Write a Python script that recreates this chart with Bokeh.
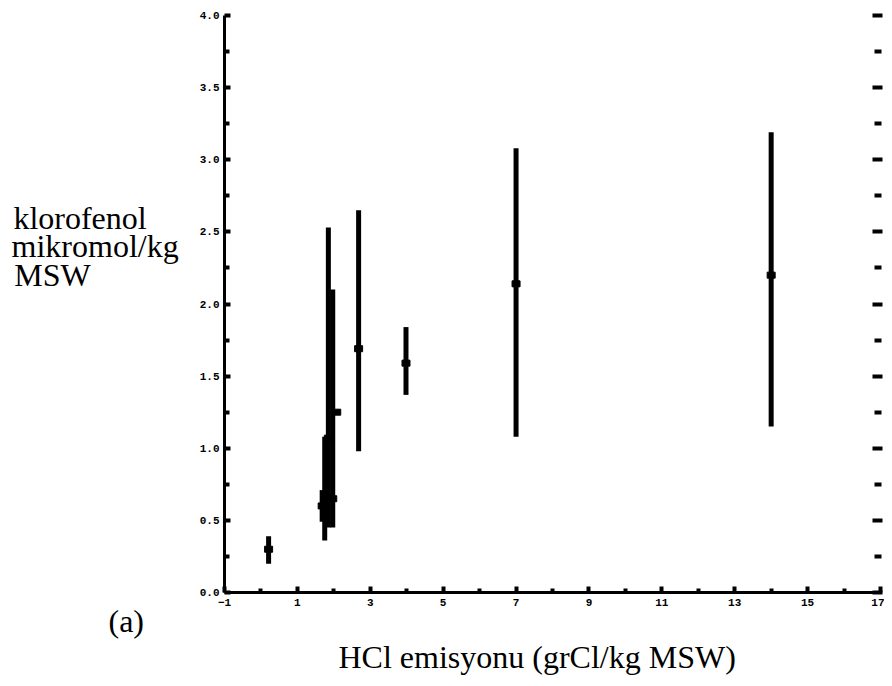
from bokeh.plotting import figure
from bokeh.models import Range1d, LinearAxis, FixedTicker, Title, NumeralTickFormatter
from bokeh.embed import file_html
from bokeh.resources import INLINE

# data
hcl = [0.21, 1.68, 1.75, 1.85, 1.97, 2.08, 2.68, 3.98, 7.0, 14.0]
klorofenol = [0.30, 0.60, 0.65, 1.07, 0.65, 1.25, 1.69, 1.59, 2.14, 2.20]
err_low = [0.20, 0.49, 0.36, 0.45, 0.45, 1.25, 0.98, 1.37, 1.08, 1.15]
err_high = [0.39, 0.71, 1.08, 2.53, 2.10, 1.25, 2.65, 1.84, 3.08, 3.19]

x_major = [-1, 1, 3, 5, 7, 9, 11, 13, 15, 17]
x_minor = [0, 2, 4, 6, 8, 10, 12, 14, 16]
y_major = [0.0, 0.5, 1.0, 1.5, 2.0, 2.5, 3.0, 3.5, 4.0]
y_minor = [0.25, 0.75, 1.25, 1.75, 2.25, 2.75, 3.25, 3.75]

ylabel_lines = ["klorofenol", "mikromol/kg", "MSW"]
xlabel_text = "HCl emisyonu (grCl/kg MSW)"
panel_text = "(a)"

NB = "\u00a0"
# pad the shorter lines so the right-aligned block reads left-aligned,
# and add blank lines so the block sits higher than the axis centre
ylabel_text = "\n".join([ylabel_lines[0] + NB * 4, ylabel_lines[1],
                         ylabel_lines[2] + NB * 11, NB, NB, NB, NB])

p = figure(width=884, height=680, output_backend="svg", toolbar_location=None,
           x_range=Range1d(-1, 17), y_range=Range1d(0, 4),
           min_border_left=224, min_border_right=4, min_border_top=15,
           min_border_bottom=88, x_axis_location=None, y_axis_location=None)
p.outline_line_color = None
p.grid.visible = False
p.background_fill_color = "white"
p.border_fill_color = "white"

tick_font = "Liberation Mono"
serif = "Liberation Serif"

xa = LinearAxis(ticker=FixedTicker(ticks=x_major, minor_ticks=x_minor))
xa.axis_line_width = 3
xa.axis_line_color = "black"
xa.major_tick_in = 6
xa.major_tick_out = 0
xa.major_tick_line_width = 4
xa.minor_tick_in = 4
xa.minor_tick_out = 0
xa.minor_tick_line_width = 4
xa.major_label_text_font = tick_font
xa.major_label_text_font_size = "11px"
xa.major_label_text_font_style = "bold"
xa.major_label_text_color = "black"
xa.major_label_standoff = 6
p.add_layout(xa, "below")

ya = LinearAxis(ticker=FixedTicker(ticks=y_major, minor_ticks=y_minor),
                formatter=NumeralTickFormatter(format="0.0"))
ya.axis_line_width = 3
ya.axis_line_color = "black"
ya.major_tick_in = 6
ya.major_tick_out = 0
ya.major_tick_line_width = 4
ya.minor_tick_in = 5
ya.minor_tick_out = 0
ya.minor_tick_line_width = 4
ya.major_label_text_font = tick_font
ya.major_label_text_font_size = "11px"
ya.major_label_text_font_style = "bold"
ya.major_label_text_color = "black"
ya.major_label_standoff = 5
ya.axis_label = ylabel_text
ya.axis_label_orientation = "horizontal"
ya.axis_label_text_font = serif
ya.axis_label_text_font_size = "32px"
ya.axis_label_text_font_style = "normal"
ya.axis_label_text_color = "black"
ya.axis_label_text_line_height = 0.80
ya.axis_label_standoff = 18
p.add_layout(ya, "left")

ra = LinearAxis(ticker=FixedTicker(ticks=y_major, minor_ticks=y_minor))
ra.axis_line_color = None
ra.major_tick_in = 8
ra.major_tick_out = 2
ra.major_tick_line_width = 4
ra.minor_tick_in = 6
ra.minor_tick_out = 1
ra.minor_tick_line_width = 4
ra.major_label_overrides = {t: "" for t in y_major}
ra.major_label_standoff = 0
p.add_layout(ra, "right")

p.segment(x0=hcl, y0=err_low, x1=hcl, y1=err_high, line_width=5, line_color="black")
p.rect(x=hcl, y=klorofenol, width=8, height=6, width_units="screen",
       height_units="screen", fill_color="black", line_color="black")

t_a = Title(text=panel_text, align="left", offset=-116, text_font=serif,
            text_font_size="32px", text_font_style="normal", text_color="black",
            standoff=-16)
t_x = Title(text=xlabel_text, align="left", offset=114, text_font=serif,
            text_font_size="32px", text_font_style="normal", text_color="black",
            standoff=12)
p.add_layout(t_a, "below")
p.add_layout(t_x, "below")

open("out.html", "w").write(file_html(p, INLINE))
